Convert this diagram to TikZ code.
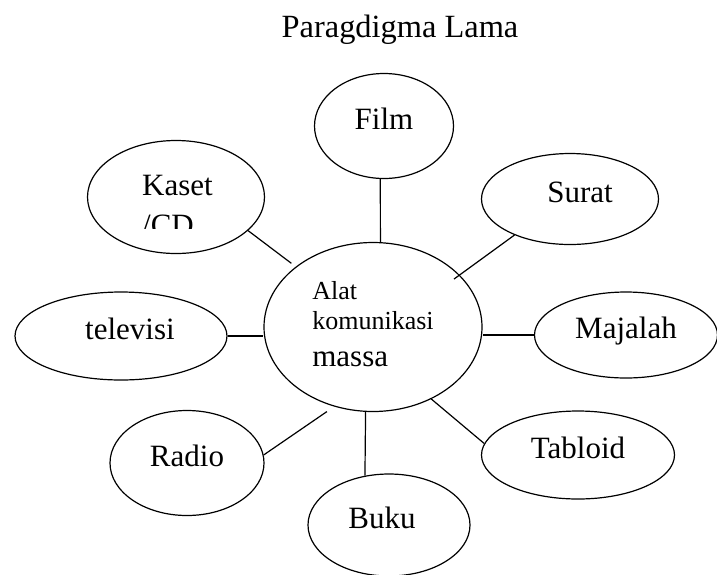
\documentclass[tikz,border=0pt]{standalone}
\usepackage{fontspec}
\setmainfont{Liberation Serif}
\usetikzlibrary{shapes}
\tikzset{elips/.style={ellipse, draw, line width=1.2pt, inner sep=0pt}}
\tikzset{bulat/.style={elips, font=\fontsize{31}{37}\selectfont, text height=21.7pt, text depth=15.5pt}}
\tikzset{garis/.style={line width=1.2pt}}

\begin{document}
\begin{tikzpicture}[x=1pt,y=-1pt]
\useasboundingbox (0,0) rectangle (717,574);
\node[font=\fontsize{32.4}{38}\selectfont, anchor=base] (judul) at (400,37) {Paragdigma Lama};

\node[bulat, minimum width=139pt, minimum height=105pt] (film) at (384,126) {Film};
\node[elips, minimum width=177pt, minimum height=113pt] (kaset) at (176,197) {};
\begin{scope}
\clip (90,150) rectangle (262,228.5);
\node[font=\fontsize{31}{40}\selectfont, align=left, inner sep=0pt, anchor=north west] (kasetteks) at (142,174.5) {Kaset\\/CD};
\end{scope}
\node[bulat, minimum width=177pt, minimum height=91pt] (surat) at (570,199) {\hspace*{20pt}Surat};
\node[bulat, minimum width=212pt, minimum height=88pt] (tv) at (121,336) {\hspace*{18pt}televisi};
\node[elips, minimum width=218pt, minimum height=169pt] (pusat) at (373,327)
  {\fontsize{26}{30}\selectfont\begin{tabular}{@{}l@{}}Alat\\komunikasi\\[7pt]\fontsize{31}{37}\selectfont massa\end{tabular}};
\node[bulat, minimum width=183pt, minimum height=86pt] (majalah) at (626,335) {Majalah};
\node[bulat, minimum width=154pt, minimum height=105pt] (radio) at (187,463) {Radio};
\node[bulat, minimum width=193pt, minimum height=88pt] (tabloid) at (578,455) {Tabloid};
\node[bulat, minimum width=162pt, minimum height=102pt] (buku) at (389,525) {Buku\hspace*{14pt}};

% garis ke pusat
\draw[garis] (film.-94.4) -- (pusat.85.3);
\draw[garis, shorten >=5.5pt] (kaset.-25) -- (pusat.142.5);
\draw[garis, shorten >=-7pt] (surat.-147) -- (pusat.31.3);
\draw[garis] (tv.east) -- (tv.east -| pusat.west);
\draw[garis] (majalah.west) -- (majalah.west -| pusat.east);
\draw[garis, shorten >=8.8pt] (radio.6.7) -- (pusat.-116.2);
\draw[garis] (pusat.-95.4) -- (buku.116.2);
\draw[garis] (pusat.-51.3) -- (tabloid.173.5);
\end{tikzpicture}
\end{document}
